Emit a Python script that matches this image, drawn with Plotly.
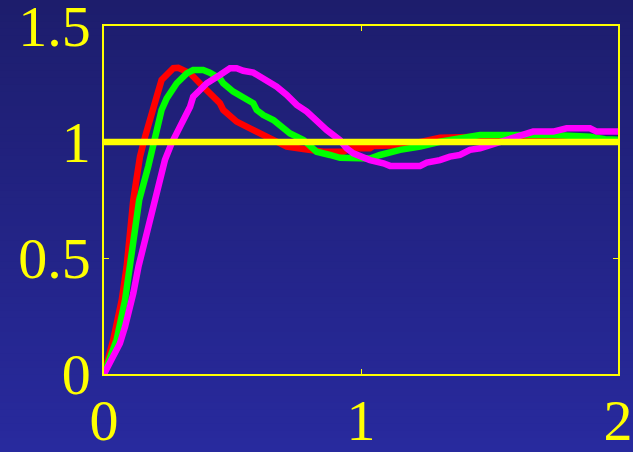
import plotly.graph_objects as go

# ---- data ----
red_t = [0, 0.036, 0.069, 0.088, 0.114, 0.140, 0.160, 0.186, 0.205, 0.224, 0.250, 0.270, 0.289,
         0.335, 0.386, 0.451, 0.464, 0.516, 0.568, 0.607, 0.672, 0.711, 0.776, 0.853, 0.931,
         0.957, 1.035, 1.048, 1.178, 1.281, 1.307, 1.463, 1.747, 1.85, 2.0]
red_y = [0, 0.147, 0.319, 0.462, 0.750, 0.937, 1.023, 1.138, 1.195, 1.267, 1.300, 1.318, 1.320,
         1.296, 1.238, 1.167, 1.138, 1.088, 1.059, 1.037, 1.001, 0.980, 0.970, 0.958, 0.958,
         0.973, 0.973, 0.983, 0.987, 1.008, 1.018, 1.023, 1.023, 1.012, 1.008]

green_t = [0, 0.049, 0.082, 0.101, 0.137, 0.172, 0.198, 0.211, 0.224, 0.244, 0.283, 0.322, 0.347,
           0.386, 0.412, 0.451, 0.464, 0.503, 0.542, 0.581, 0.594, 0.620, 0.659, 0.698, 0.724,
           0.776, 0.827, 0.879, 0.918, 1.035, 1.074, 1.152, 1.230, 1.307, 1.463, 1.748, 1.891,
           1.95, 2.0]
green_y = [0, 0.147, 0.319, 0.462, 0.750, 0.894, 1.009, 1.052, 1.138, 1.188, 1.253, 1.296, 1.310,
           1.310, 1.299, 1.274, 1.253, 1.217, 1.195, 1.167, 1.138, 1.116, 1.095, 1.059, 1.037,
           1.009, 0.958, 0.944, 0.932, 0.929, 0.944, 0.966, 0.980, 1.001, 1.030, 1.030, 1.023,
           1.012, 1.010]

mag_t = [0, 0.036, 0.062, 0.082, 0.101, 0.114, 0.134, 0.166, 0.200, 0.211, 0.224, 0.237, 0.263,
         0.302, 0.335, 0.347, 0.374, 0.400, 0.451, 0.490, 0.516, 0.542, 0.581, 0.607, 0.633,
         0.672, 0.711, 0.750, 0.789, 0.827, 0.866, 0.918, 0.944, 0.970, 1.035, 1.087, 1.113,
         1.230, 1.256, 1.307, 1.346, 1.385, 1.424, 1.463, 1.502, 1.541, 1.606, 1.670, 1.748,
         1.800, 1.891, 1.917, 2.0]
mag_y = [0, 0.075, 0.132, 0.204, 0.276, 0.348, 0.462, 0.606, 0.750, 0.807, 0.879, 0.922, 0.994,
         1.080, 1.152, 1.195, 1.224, 1.253, 1.289, 1.318, 1.318, 1.307, 1.299, 1.282, 1.260,
         1.238, 1.203, 1.160, 1.131, 1.088, 1.052, 1.008, 0.973, 0.951, 0.922, 0.908, 0.897,
         0.897, 0.911, 0.922, 0.937, 0.944, 0.966, 0.973, 0.987, 0.997, 1.023, 1.045, 1.045,
         1.059, 1.059, 1.045, 1.045]

ref_t = [0, 2]
ref_y = [1, 1]

x_ticks = [0, 1, 2]
x_labels = ["0", "1", "2"]
y_ticks = [0, 0.5, 1, 1.5]
y_labels = ["0", "0.5", "1", "1.5"]

YELLOW = "#ffff00"
W, H = 633, 452
ML, MR, MT, MB = 104, 15, 26, 78

fig = go.Figure()
fig.add_trace(go.Scatter(x=red_t, y=red_y, mode="lines",
                         line=dict(color="#ff0000", width=6.5), hoverinfo="skip"))
fig.add_trace(go.Scatter(x=green_t, y=green_y, mode="lines",
                         line=dict(color="#00ff00", width=6.5), hoverinfo="skip"))
fig.add_trace(go.Scatter(x=mag_t, y=mag_y, mode="lines",
                         line=dict(color="#ff00ff", width=6.5), hoverinfo="skip"))
fig.add_trace(go.Scatter(x=ref_t, y=ref_y, mode="lines",
                         line=dict(color=YELLOW, width=6.5), hoverinfo="skip"))

# vertical background gradient covering the whole figure
ph = H - MT - MB
y_top = 1 + MT / ph
y_bot = -MB / ph
shapes = []
n = 64
top = (29, 29, 108)
bot = (40, 42, 158)
for i in range(n):
    f = (i + 0.5) / n
    c = tuple(round(top[k] + (bot[k] - top[k]) * f) for k in range(3))
    y1 = y_top - i * (y_top - y_bot) / n
    y0 = y_top - (i + 1) * (y_top - y_bot) / n
    if i == 0:
        y1 += 0.2
    if i == n - 1:
        y0 -= 0.2
    shapes.append(dict(type="rect", xref="paper", yref="paper",
                       x0=-0.5, x1=1.5, y0=y0 - 0.002, y1=y1,
                       fillcolor="rgb(%d,%d,%d)" % c, line=dict(width=0), layer="below"))

axis_common = dict(showline=True, linecolor=YELLOW, linewidth=1.5, mirror="ticks",
                   ticks="inside", ticklen=5, tickwidth=1, tickcolor=YELLOW,
                   showgrid=False, zeroline=False, ticklabeloverflow="allow",
                   automargin=False,
                   tickfont=dict(family="Liberation Serif", size=58, color=YELLOW))

fig.update_layout(
    template="none",
    width=W, height=H,
    margin=dict(l=ML, r=MR, t=MT, b=MB, autoexpand=False),
    paper_bgcolor="rgb(34,35,130)",
    plot_bgcolor="rgba(0,0,0,0)",
    showlegend=False,
    shapes=shapes,
    xaxis=dict(range=[0, 2], tickvals=x_ticks, ticktext=x_labels,
               ticklabelstandoff=-5, **axis_common),
    yaxis=dict(range=[0, 1.5], tickvals=y_ticks, ticktext=y_labels, **axis_common),
)

fig.write_html(
    "out.html",
    config={"responsive": False, "displayModeBar": False},
    post_script="document.body.style.margin='0';document.body.style.overflow='hidden';"
                "document.body.style.background='rgb(34,35,130)';",
)
